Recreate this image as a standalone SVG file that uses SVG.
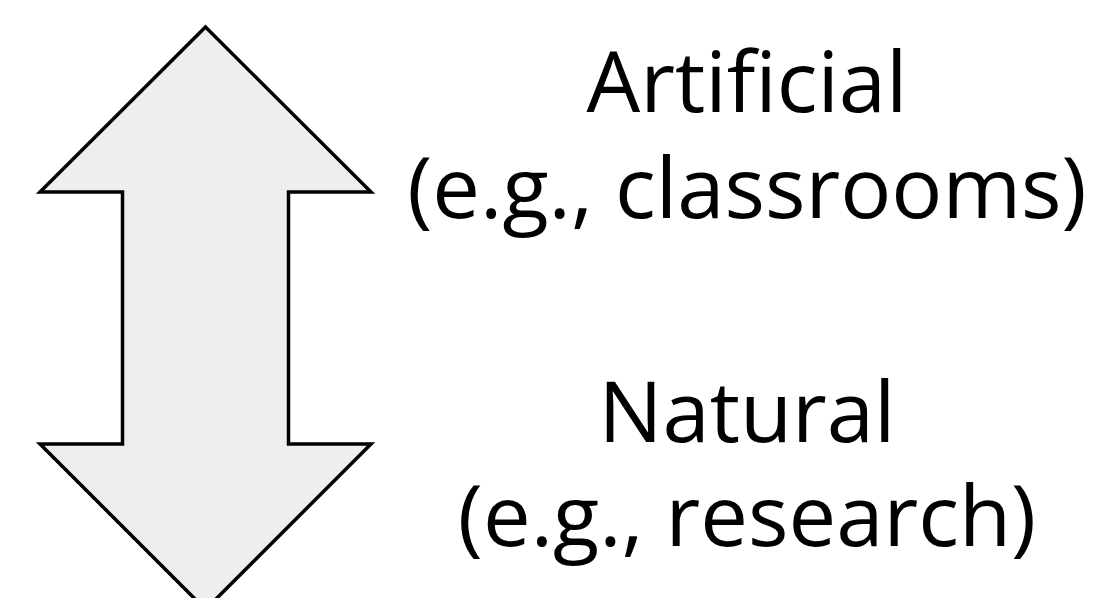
<svg xmlns="http://www.w3.org/2000/svg" width="1097" height="598" viewBox="0 0 1097 598">
<style>
.lbl{font-family:"Open Sans","Noto Sans","Liberation Sans",sans-serif;font-size:85px;fill:#000;text-anchor:middle}
</style>
<rect width="1097" height="598" fill="#fff"/>
<g id="arrow">
<path d="M205.5,27 L371,192 L288.5,192 L288.5,444 L371,444 L205.5,609.5 L40,444 L122.5,444 L122.5,192 L40,192 Z" fill="#eeeeee" stroke="#000" stroke-width="3.5" stroke-linejoin="miter"/>
</g>
<g id="artificial">
<text class="lbl" x="747" y="112">Artificial</text>
<text class="lbl" x="747" y="218">(e.g., classrooms)</text>
</g>
<g id="natural">
<text class="lbl" x="747" y="442">Natural</text>
<text class="lbl" x="747" y="546">(e.g., research)</text>
</g>
<g id="connectors"></g>
</svg>
